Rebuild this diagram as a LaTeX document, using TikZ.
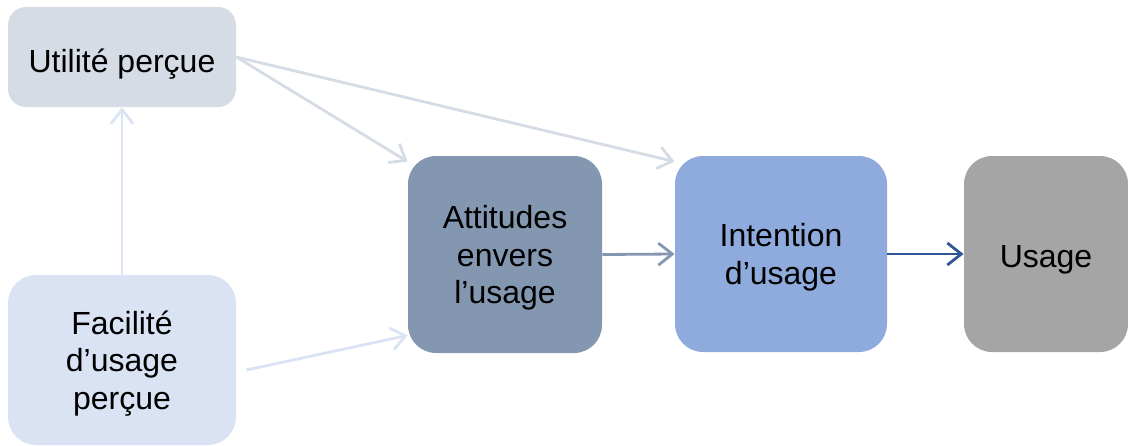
\documentclass[tikz,border=0pt]{standalone}
\usepackage{fontspec}
\setmainfont{Liberation Sans}
\usepackage{tikz}
\usetikzlibrary{arrows.meta, positioning}
\definecolor{utilGris}{HTML}{D6DCE5}
\definecolor{facilBleu}{HTML}{DAE3F3}
\definecolor{attitBleu}{HTML}{8497B0}
\definecolor{intentBleu}{HTML}{8FAADC}
\definecolor{usageGris}{HTML}{A5A5A5}
\definecolor{flecheFonce}{HTML}{2F5597}
\tikzset{
    ->, % all links are directed
    >={Straight Barb[length=7pt,width=11pt]}, % open arrow heads
    x=0.5pt, y=-0.5pt, % one unit is one pixel of the model
    every node/.style={font=\fontsize{16}{18.75}\selectfont, align=center, text=black}, % text of the boxes
}
\begin{document}
\begin{tikzpicture}[
                                boite/.style={rectangle, rounded corners=14pt, inner sep=0pt},
                                uneLigne/.style={text height=17pt}, % pushes a single line down a bit
                                plusLignes/.style={text depth=-2pt}, % same for several lines
                                lien/.style={line width=1.4pt},
                            ]
                            \useasboundingbox (0,0) rectangle (1128,445);
                            \node[boite, uneLigne, text height=19pt, rounded corners=9pt, fill=utilGris, minimum width=114pt, minimum height=50pt] (utilPercue) at (122,57) {Utilité perçue};
                            \node[boite, plusLignes, fill=facilBleu, minimum width=114pt, minimum height=85pt] (facilUsage) at (122,360) {Facilité\\d’usage\\perçue};
                            \node[boite, plusLignes, fill=attitBleu, minimum width=97pt, minimum height=98.5pt] (attitUsage) at (505,254.5) {Attitudes\\envers\\l’usage};
                            \node[boite, plusLignes, fill=intentBleu, minimum width=106pt, minimum height=98pt] (intentUsage) at (781,254) {Intention\\d’usage};
                            \node[boite, uneLigne, fill=usageGris, minimum width=82pt, minimum height=98pt] (usage) at (1046,254) {Usage};
                            \draw[lien, draw=facilBleu]
                            (facilUsage.north) -- (utilPercue.south);
                            \draw[lien, draw=utilGris]
                            (utilPercue.east) -- ([yshift=-3pt]attitUsage.north west);
                            \draw[lien, draw=utilGris]
                            (utilPercue.east) -- ([yshift=-3pt]intentUsage.north west);
                            \draw[lien, draw=facilBleu]
                            ([shift={(5pt,-5pt)}]facilUsage.east) -- ([yshift=9pt]attitUsage.south west);
                            \draw[lien, draw=attitBleu]
                            (attitUsage.east) -- (intentUsage.west);
                            \draw[lien, draw=flecheFonce]
                            (intentUsage.east) -- (usage.west);
                        \end{tikzpicture}
\end{document}
